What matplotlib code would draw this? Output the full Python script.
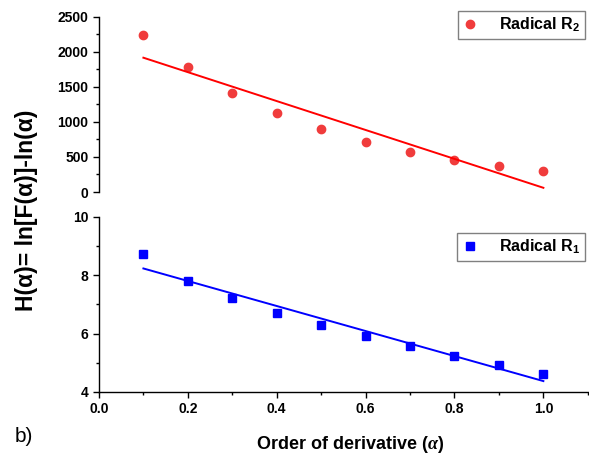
import numpy as np
import matplotlib
matplotlib.use("Agg")
import matplotlib.pyplot as plt
from matplotlib.ticker import MultipleLocator

plt.rcParams['font.family'] = ['Liberation Sans', 'DejaVu Sans']
plt.rcParams['font.weight'] = 'bold'
plt.rcParams['axes.labelweight'] = 'bold'
plt.rcParams['mathtext.fontset'] = 'custom'
plt.rcParams['mathtext.rm'] = 'Liberation Sans:bold'
plt.rcParams['mathtext.bf'] = 'Liberation Sans:bold'
plt.rcParams['mathtext.it'] = 'Liberation Serif:italic'

# order of derivative
alpha = [0.1, 0.2, 0.3, 0.4, 0.5, 0.6, 0.7, 0.8, 0.9, 1.0]
# H(alpha) values
r2_vals = [2243, 1786, 1414, 1129, 900, 714, 571, 457, 371, 300]
r1_vals = [8.72, 7.81, 7.21, 6.71, 6.29, 5.92, 5.58, 5.24, 4.91, 4.63]

fig = plt.figure(figsize=(5.89, 4.55), dpi=100)
ax_top = fig.add_axes([0.168, 0.578, 0.83, 0.385])
ax_bot = fig.add_axes([0.168, 0.1385, 0.83, 0.385])

x = np.array(alpha)
leg_opts = dict(loc='upper right', fancybox=False, edgecolor='gray',
                fontsize=11.5, handlelength=1.0, handletextpad=1.3,
                borderpad=0.3, framealpha=1)

# top panel: radical R2
p2 = np.polyfit(x, r2_vals, 1)
ax_top.plot(x, r2_vals, 'o', color='#f03c3c', markersize=6, label='Radical R$_2$')
ax_top.plot(x, np.polyval(p2, x), '-', color='#ff0000', lw=1.4)
ax_top.set_xlim(0, 1.1)
ax_top.set_ylim(0, 2500)
ax_top.yaxis.set_major_locator(MultipleLocator(500))
ax_top.yaxis.set_minor_locator(MultipleLocator(250))
for s in ['top', 'right', 'bottom']:
    ax_top.spines[s].set_visible(False)
ax_top.set_xticks([])
ax_top.legend(bbox_to_anchor=(1.01, 1.08), **leg_opts)

# bottom panel: radical R1
p1 = np.polyfit(x, r1_vals, 1)
ax_bot.plot(x, r1_vals, 's', color='#0000ff', markersize=6, label='Radical R$_1$')
ax_bot.plot(x, np.polyval(p1, x), '-', color='#0000ff', lw=1.4)
ax_bot.set_xlim(0, 1.1)
ax_bot.set_ylim(4, 10)
ax_bot.yaxis.set_major_locator(MultipleLocator(2))
ax_bot.yaxis.set_minor_locator(MultipleLocator(1))
ax_bot.set_xticks([0.0, 0.2, 0.4, 0.6, 0.8, 1.0])
ax_bot.xaxis.set_minor_locator(MultipleLocator(0.1))
for s in ['top', 'right']:
    ax_bot.spines[s].set_visible(False)
ax_bot.legend(bbox_to_anchor=(1.01, 0.955), **leg_opts)

for ax in (ax_top, ax_bot):
    ax.tick_params(which='major', direction='out', length=4, width=1, labelsize=10)
    ax.tick_params(which='minor', direction='out', length=2.5, width=1)
    for s in ['left', 'bottom']:
        ax.spines[s].set_linewidth(1)

ax_bot.set_xlabel(r'Order of derivative ($\alpha$)', fontsize=13)
ax_bot.xaxis.set_label_coords(0.513, -0.24)
fig.text(0.045, 0.538, 'H(α)= ln[F(α)]-ln(α)', rotation=90, fontsize=16.5,
         fontweight='bold', ha='center', va='center')
fig.text(0.025, 0.04, 'b)', fontsize=15, fontweight='normal', ha='left', va='center')

fig.savefig('out.png', dpi=100)
